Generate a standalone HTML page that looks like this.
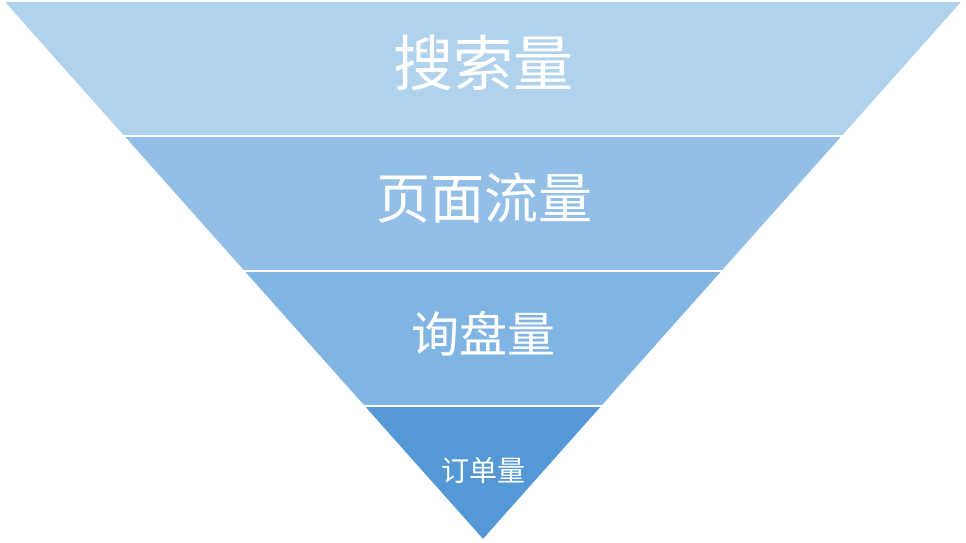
<!DOCTYPE html>
<html><head><meta charset="utf-8"><style>
html,body{margin:0;padding:0;background:#fff;width:966px;height:543px;overflow:hidden}
text{font-family:"Liberation Sans","Noto Sans CJK SC",sans-serif;fill:#fff;text-anchor:middle;dominant-baseline:central}
</style></head><body>
<svg width="966" height="543" viewBox="0 0 966 543" xmlns="http://www.w3.org/2000/svg">
<polygon points="5,2 961,2 842.6,135 123.4,135" fill="#B0D2ED"/>
<polygon points="125.2,137 840.8,137 722.4,270 243.6,270" fill="#93BFE6"/>
<polygon points="245.4,272 720.6,272 602.2,405 363.8,405" fill="#80B4E2"/>
<polygon points="365.6,407 600.4,407 483,539" fill="#5499D6"/>
<text x="483" y="65" font-size="60">搜索量</text>
<text x="484" y="200" font-size="54">页面流量</text>
<text x="483" y="336" font-size="48">询盘量</text>
<text x="483" y="471" font-size="28">订单量</text>
</svg>
</body></html>
